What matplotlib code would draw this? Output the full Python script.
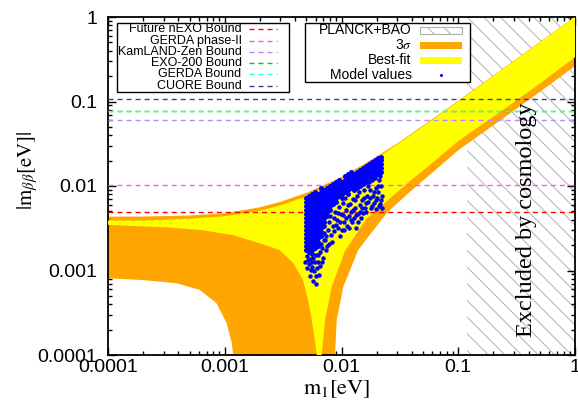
# effective Majorana mass vs lightest neutrino mass (normal ordering)
import matplotlib
matplotlib.use("Agg")
import matplotlib.pyplot as plt
from matplotlib.patches import Rectangle
from matplotlib.lines import Line2D

plt.rcParams['mathtext.fontset'] = 'stix'
plt.rcParams['hatch.linewidth'] = 0.7

# ---- band edges [eV] ----
m1_up   = [1e-4, 2e-4, 5e-4, 1e-3, 2e-3, 3e-3, 5e-3, 7e-3, 1e-2, 1.5e-2, 2e-2, 3e-2, 5e-2, 0.1, 0.2, 0.5, 1.0]
bf_max  = [0.0039, 0.0039, 0.0041, 0.0044, 0.0051, 0.0059, 0.0075, 0.0093, 0.0119, 0.0166, 0.0213, 0.031, 0.0507, 0.1, 0.2, 0.5, 1.0]
s3_max  = [0.00433, 0.00435, 0.00447, 0.00475, 0.0056, 0.0065, 0.0083, 0.0102, 0.0128, 0.0176, 0.0224, 0.0318, 0.052, 0.102, 0.203, 0.506, 1.01]

bf_min_left_m1 = [1e-4, 3.16e-4, 6.3e-4, 1.17e-3, 2.0e-3, 2.95e-3, 3.85e-3, 4.42e-3, 4.68e-3, 5.16e-3, 5.48e-3, 5.82e-3, 6.14e-3, 6.2e-3]
bf_min_left    = [3.47e-3, 3.24e-3, 3.01e-3, 2.63e-3, 2.10e-3, 1.75e-3, 1.23e-3, 8.9e-4, 7.7e-4, 4.5e-4, 2.97e-4, 1.73e-4, 1.0e-4, 1e-5]
bf_min_right_m1 = [6.7e-3, 6.76e-3, 7.23e-3, 8.24e-3, 1.07e-2, 1.64e-2, 2.44e-2, 3.73e-2, 5.93e-2, 0.1, 0.228, 0.5, 1.0]
bf_min_right    = [1e-5, 1e-4, 2.6e-4, 6.4e-4, 1.7e-3, 4.1e-3, 6.6e-3, 1.1e-2, 1.85e-2, 3.41e-2, 7.5e-2, 0.163, 0.335]

s3_min_left_m1 = [1e-4, 2.0e-4, 3.9e-4, 6.1e-4, 8.5e-4, 1.04e-3, 1.15e-3, 1.18e-3, 1.19e-3]
s3_min_left    = [8.1e-4, 7.7e-4, 7.05e-4, 5.9e-4, 4.1e-4, 2.37e-4, 1.38e-4, 1.0e-4, 1e-5]
s3_min_right_m1 = [8.7e-3, 8.79e-3, 9.1e-3, 1.035e-2, 1.39e-2, 2.44e-2, 3.73e-2, 5.93e-2, 0.1, 0.228, 0.5, 1.0]
s3_min_right    = [1e-5, 1e-4, 2.6e-4, 6.4e-4, 1.75e-3, 4.8e-3, 8.2e-3, 1.42e-2, 2.65e-2, 5.95e-2, 0.13, 0.263]

# cosmology bound on m1 [eV]
planck_m1 = 0.12

# experimental bounds [eV]
bound_labels = ["Future nEXO Bound", "GERDA phase-II", "KamLAND-Zen Bound", "EXO-200 Bound", "GERDA Bound", "CUORE Bound"]
bound_values = [0.0049, 0.0103, 0.061, 0.078, 0.077, 0.107]
bound_colors = ["#ff0000", "#ff55ff", "#b58cff", "#00cc00", "#33ffdd", "#3a3aa8"]

# model points [meV], dense columns
dense_m1 = [4.97, 5.27, 5.59, 5.93, 6.29, 6.67, 7.08, 7.51, 7.97, 8.46, 8.97, 9.52, 10.1,
            10.71, 11.37, 12.06, 12.79, 13.57, 14.40, 15.28, 16.21, 17.20, 18.25, 19.36, 20.54, 21.79]
dense_mbb = [
    [7.21, 6.47, 5.80, 5.20, 4.66, 4.18, 3.75, 3.36, 3.01, 2.70, 2.42, 2.17, 1.95, 1.75],
    [7.61, 6.83, 6.12, 5.49, 4.92, 4.41, 3.96, 3.55, 3.18, 2.85, 2.56, 2.29, 2.06, 1.85, 1.66],
    [8.04, 7.21, 6.47, 5.80, 5.20, 4.66, 4.18, 3.75, 3.36, 3.01, 2.70, 2.42, 2.17, 1.95, 1.75, 1.57],
    [8.49, 7.61, 6.83, 6.12, 5.49, 4.92, 4.41, 3.96, 3.55, 3.18, 2.85, 2.56, 2.29, 2.06, 1.85],
    [8.04, 7.21, 6.47, 5.80, 5.20, 4.66, 4.18, 3.75, 3.36, 3.01, 2.70, 2.42, 2.17, 1.95],
    [9.47, 8.49, 7.61, 6.83, 6.12, 5.49, 4.92, 4.41, 3.96, 3.55, 3.18, 2.85, 2.56],
    [8.97, 8.04, 7.21, 6.47, 5.80, 5.20, 4.66, 4.18, 3.75, 3.36],
    [9.47, 8.49, 7.61, 6.83, 6.12, 5.49, 4.92, 4.41],
    [10.0, 8.97, 8.04, 7.21, 6.47, 5.80, 5.20],
    [10.56, 9.47, 8.49, 7.61, 6.83, 6.12],
    [11.15, 10.0, 8.97, 8.04, 7.21, 6.47],
    [11.78, 10.56, 9.47, 8.49, 7.61],
    [11.15, 10.0, 8.97, 8.04, 7.21],
    [13.13, 11.78, 10.56, 9.47, 8.49],
    [13.87, 12.44, 11.15, 10.0, 8.97, 8.04],
    [14.65, 13.13, 11.78, 10.56, 9.47],
    [13.87, 12.44, 11.15, 10.0, 8.97],
    [14.65, 13.13, 11.78, 10.56, 9.47],
    [15.47, 13.87, 12.44, 11.15, 10.0],
    [16.3, 14.65, 13.13, 11.78, 10.56],
    [17.25, 15.47, 13.87, 12.44, 11.15],
    [18.2, 16.3, 14.65, 13.13, 11.78],
    [19.23, 17.25, 15.47, 13.87, 12.44],
    [20.3, 18.2, 16.3, 14.65, 13.13],
    [21.45, 19.23, 17.25, 15.47, 13.87],
    [22.0, 20.3, 18.2, 16.3, 14.65],
]
# model points [meV], scattered ones
sparse_m1 = [5.06, 5.37, 4.87, 5.70, 5.27, 6.05, 5.59, 5.06, 5.81, 5.37, 5.70, 6.05, 5.48, 6.29, 6.54, 6.17,
             6.81, 6.42, 5.93, 6.94, 7.22, 6.67, 7.37, 7.66, 7.08, 7.51, 7.82, 8.13, 7.97, 8.46, 8.29,
             8.80, 9.15, 8.63, 9.52, 9.33, 9.90, 9.71, 10.30, 10.50, 10.10, 10.93, 11.14, 10.71, 11.59,
             11.82, 12.30, 12.06, 12.54, 13.05, 12.79, 13.57, 13.31, 13.84, 14.40, 14.12, 14.69, 14.98,
             15.58, 15.89, 15.28, 16.53, 16.86, 16.21, 17.54, 17.89, 17.20, 18.61, 18.25, 18.98, 19.75,
             19.36, 20.14, 20.95, 20.54, 21.37, 21.79, 21.37, 22.23, 19.75, 22.23,
             8.63, 8.97, 9.33, 9.71, 10.30, 10.50, 10.93, 11.37, 11.59, 12.06, 12.54, 13.05, 13.31,
             13.84, 14.40, 14.98, 15.58, 16.21, 16.86, 17.54, 18.25, 18.98, 19.75, 20.54, 20.95, 21.79,
             7.08, 7.37, 7.82, 6.81, 6.29, 5.59, 5.17, 6.05, 6.54]
sparse_mbb = [1.49, 1.37, 1.26, 1.41, 1.19, 1.53, 1.10, 1.07, 0.983, 0.858, 0.749, 0.69, 1.01, 1.26, 1.66, 1.07,
              1.85, 0.882, 1.26, 1.41, 2.29, 2.06, 1.75, 3.01, 2.78, 1.95, 3.75, 2.63, 4.41, 3.36, 2.17,
              4.92, 3.96, 2.93, 5.64, 3.18, 4.66, 2.56, 6.29, 3.75, 3.01, 5.20, 3.36, 7.21, 4.41,
              6.12, 3.75, 4.92, 7.02, 5.49, 4.18, 7.61, 3.18, 4.66, 5.96, 8.49, 4.18, 6.83,
              8.97, 5.49, 4.79, 7.61, 10.00, 6.29, 8.97, 5.49, 11.15, 7.61, 11.78, 6.29, 9.47,
              12.44, 7.21, 11.78, 8.49, 6.12, 10.00, 13.13, 7.61, 5.34, 5.49,
              4.18, 3.45, 4.79, 3.75, 4.53, 3.01, 4.18, 5.96, 3.18, 3.96, 5.20, 6.83, 4.53,
              3.75, 4.92, 5.49, 7.21, 4.92, 6.47, 7.21, 5.80, 8.49, 6.83, 10.00, 5.80, 6.83,
              2.29, 2.56, 2.06, 1.26, 1.53, 1.26, 1.33, 0.858, 1.13]

ticks = [1e-4, 1e-3, 1e-2, 1e-1, 1]
tick_labels = ["0.0001", "0.001", "0.01", "0.1", "1"]

ORANGE = "#ffa500"
YELLOW = "#ffff00"
BLUE = "#0000ff"
SANS = "Liberation Sans"
SERIF = "Liberation Serif"

fig = plt.figure(figsize=(5.78, 4.03), dpi=100)
ax = fig.add_axes([108/578, 1-355/403, 467/578, 338/403])
ax.set_xscale('log')
ax.set_yscale('log')
ax.set_xlim(1e-4, 1)
ax.set_ylim(1e-4, 1)

# excluded by PLANCK+BAO
ax.axvspan(planck_m1, 1, facecolor='white', edgecolor='#b0b0b0', hatch='\\\\', lw=0, zorder=1)

# 3 sigma band (orange) then best fit band (yellow) on top
ox = m1_up + s3_min_right_m1[::-1] + s3_min_left_m1[::-1]
oy = s3_max + s3_min_right[::-1] + s3_min_left[::-1]
ax.fill(ox, oy, color=ORANGE, lw=0, zorder=2)
yx = m1_up + bf_min_right_m1[::-1] + bf_min_left_m1[::-1]
yy = bf_max + bf_min_right[::-1] + bf_min_left[::-1]
ax.fill(yx, yy, color=YELLOW, lw=0, zorder=3)

# experimental bounds
for val, col in zip(bound_values, bound_colors):
    ax.axhline(val, color=col, lw=1.0, ls=(0, (3.6, 2.9)), zorder=4)

# model values, meV -> eV
px = []
py = []
for m, col in zip(dense_m1, dense_mbb):
    for v in col:
        px.append(m * 1e-3)
        py.append(v * 1e-3)
ax.plot(px, py, 'o', color=BLUE, ms=3.6, mew=0, zorder=5)
ax.plot([m * 1e-3 for m in sparse_m1], [v * 1e-3 for v in sparse_mbb], 'o',
        color=BLUE, ms=3.2, mew=0, zorder=5)

ax.text(0.897, 0.40, "Excluded by cosmology", transform=ax.transAxes, rotation=90,
        ha='center', va='center', fontsize=17.5, family=SERIF, zorder=5)

# axes / ticks
ax.set_xticks(ticks, tick_labels, fontsize=14, family=SANS)
ax.set_yticks(ticks, tick_labels, fontsize=14, family=SANS)
ax.xaxis.set_minor_formatter(plt.NullFormatter())
ax.yaxis.set_minor_formatter(plt.NullFormatter())
ax.tick_params(which='both', direction='in', top=True, right=True, width=1)
ax.tick_params(which='major', length=6)
ax.tick_params(which='minor', length=3)
ax.tick_params(axis='y', pad=8)
ax.tick_params(axis='x', pad=2.7)
for s in ax.spines.values():
    s.set_linewidth(1.3)

ax.set_xlabel(r'$\mathrm{m_1[eV]}$', fontsize=16)
ax.set_ylabel(r'$|\mathrm{m}_{\beta\beta}[\mathrm{eV}]|$', fontsize=15)
ax.xaxis.set_label_coords(0.49, -0.068)
ax.yaxis.set_label_coords(-0.145, 0.545)

# left key: bounds
ax.add_patch(Rectangle((0.0186, 0.779), 0.3687, 0.2041, transform=ax.transAxes,
                       facecolor='white', edgecolor='black', lw=1, zorder=6))
for i, (lab, col) in enumerate(zip(bound_labels, bound_colors)):
    ry = 0.9636 - i * 0.0334
    ax.text(0.2861, ry, lab, transform=ax.transAxes, ha='right', va='center',
            fontsize=9, family=SANS, zorder=7)
    ax.add_line(Line2D([0.3026, 0.3612], [ry, ry], transform=ax.transAxes, color=col,
                       lw=1.0, ls=(0, (3.6, 2.9)), zorder=7))

# right key: regions
ax.add_patch(Rectangle((0.4218, 0.8086), 0.3534, 0.1745, transform=ax.transAxes,
                       facecolor='white', edgecolor='black', lw=1, zorder=6))
key2 = ["PLANCK+BAO", r"3$\sigma$", "Best-fit", "Model values"]
for i, lab in enumerate(key2):
    ry = 0.9615 - i * 0.0444
    ax.text(0.6503, ry, lab, transform=ax.transAxes, ha='right', va='center',
            fontsize=10, family=SANS, zorder=7)
hh = 0.0207
ax.add_patch(Rectangle((0.6681, 0.9615 - hh/2), 0.0893, hh, transform=ax.transAxes,
                       facecolor='white', edgecolor='#b0b0b0', hatch='\\\\', lw=0.8, zorder=7))
ax.add_patch(Rectangle((0.6681, 0.9171 - hh/2), 0.0893, hh, transform=ax.transAxes,
                       facecolor=ORANGE, lw=0, zorder=7))
ax.add_patch(Rectangle((0.6681, 0.8727 - hh/2), 0.0893, hh, transform=ax.transAxes,
                       facecolor=YELLOW, lw=0, zorder=7))
ax.add_line(Line2D([0.7127], [0.8283], transform=ax.transAxes, marker='o', color=BLUE,
                   ms=2.2, mew=0, ls='none', zorder=7))

fig.savefig("out.png", dpi=100)
